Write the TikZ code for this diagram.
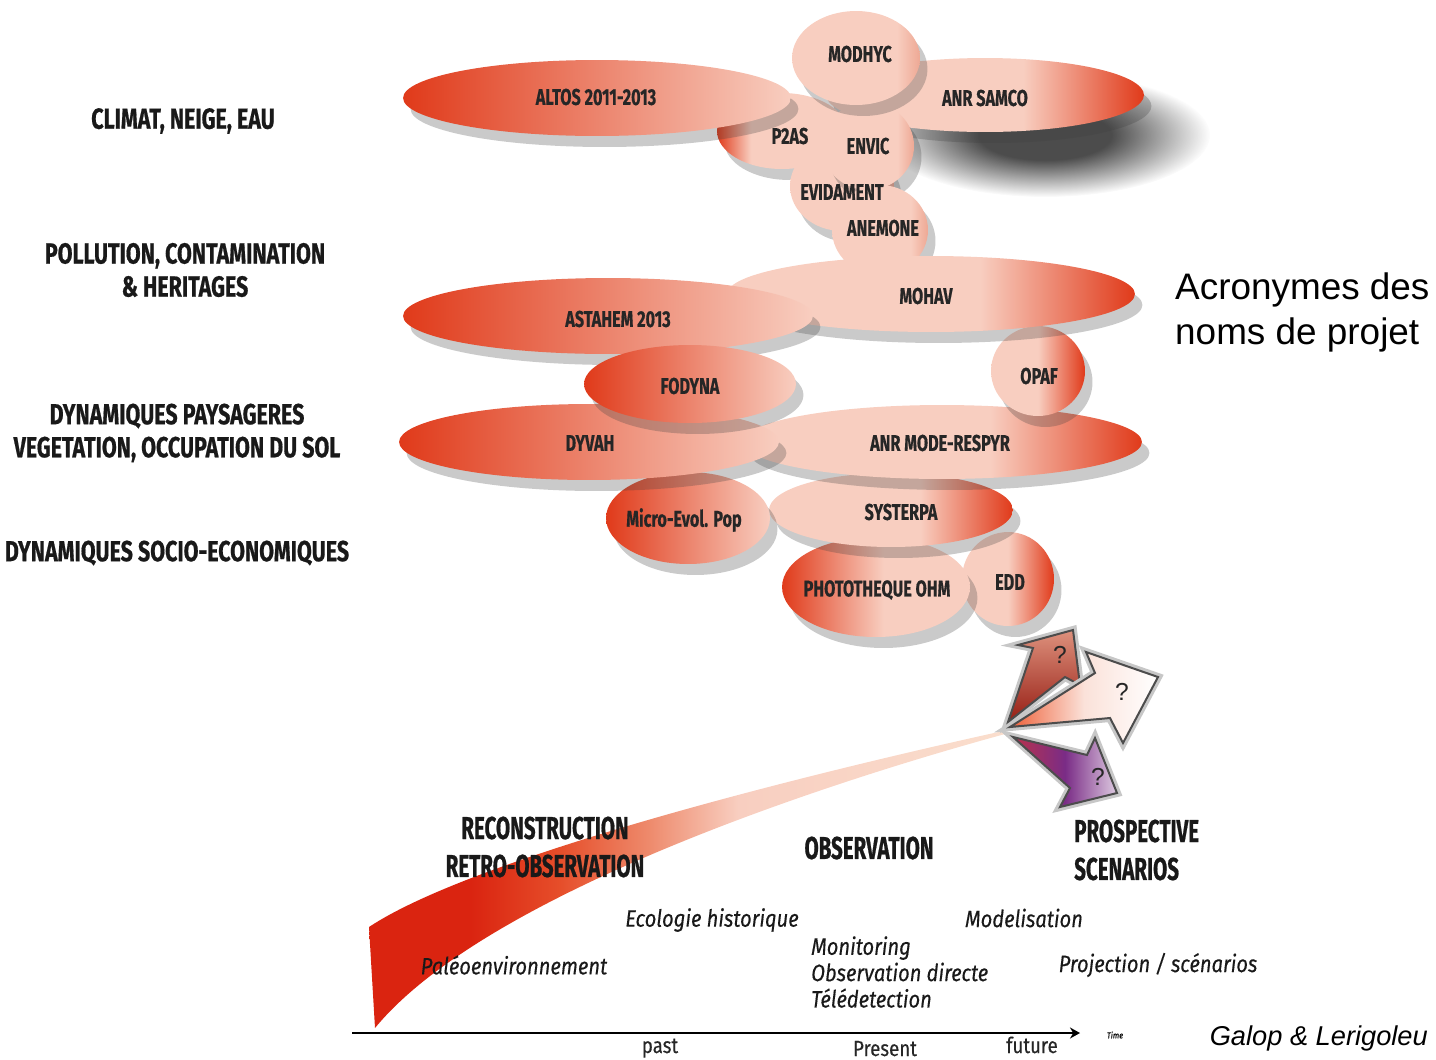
\documentclass[tikz,border=0pt]{standalone}
\usepackage{fontspec}
\usetikzlibrary{shapes.geometric,shadows,arrows.meta,fadings}
\newfontfamily\etroit[FakeStretch=0.71,FakeBold=0.5]{Fira Sans}
\newfontfamily\etroitlarge[FakeStretch=0.74,FakeBold=0.6]{Fira Sans}
\newfontfamily\etroittitre[FakeStretch=0.65,FakeBold=0.6]{Fira Sans}
\newfontfamily\etroitit[FakeStretch=0.85,FakeBold=0.3]{Fira Sans}
\newfontfamily\arial{Liberation Sans}
\definecolor{rouge}{RGB}{224,58,26}
\definecolor{rose}{RGB}{248,206,192}
\definecolor{rosefonce}{RGB}{238,168,148}
\definecolor{brique}{RGB}{218,36,16}
\definecolor{orangeq}{RGB}{230,78,42}
\definecolor{saumon}{RGB}{238,138,108}
\definecolor{peche}{RGB}{250,222,205}
\definecolor{brun}{RGB}{150,30,20}
\definecolor{saumonf}{RGB}{222,145,125}
\definecolor{orangef}{RGB}{238,95,55}
\definecolor{violet}{RGB}{122,44,134}
\definecolor{lie}{RGB}{185,50,75}
\pgfdeclarehorizontalshading{rougeG}{100bp}{color(0bp)=(rouge); color(25bp)=(rouge); color(75bp)=(rose); color(100bp)=(rose)}
\pgfdeclarehorizontalshading{rougeD}{100bp}{color(0bp)=(rose); color(25bp)=(rose); color(56bp)=(rose); color(75bp)=(rouge); color(100bp)=(rouge)}
\pgfdeclarehorizontalshading{bordG}{100bp}{color(0bp)=(rouge); color(25bp)=(rouge); color(52bp)=(rose); color(100bp)=(rose)}
\pgfdeclarehorizontalshading{pointeG}{100bp}{color(0bp)=(rouge); color(25bp)=(rouge); color(38bp)=(rose); color(100bp)=(rose)}
\pgfdeclarehorizontalshading{bordD}{100bp}{color(0bp)=(rose); color(50bp)=(rose); color(75bp)=(rouge); color(100bp)=(rouge)}
\pgfdeclarehorizontalshading{uni}{100bp}{color(0bp)=(rose); color(66bp)=(rose); color(75bp)=(rosefonce); color(100bp)=(rosefonce)}
\pgfdeclarehorizontalshading{queue}{100bp}{color(0bp)=(brique); color(33bp)=(brique); color(40bp)=(orangeq); color(47bp)=(saumon); color(54bp)=(rose); color(75bp)=(peche); color(100bp)=(peche)}
\pgfdeclareradialshading{flouS}{\pgfpointorigin}{color(0bp)=(pgftransparent!0); color(10bp)=(pgftransparent!0); color(25bp)=(pgftransparent!100); color(50bp)=(pgftransparent!100)}
\pgfdeclarefading{flou}{\pgfuseshading{flouS}}
\begin{document}
\begin{tikzpicture}[x=0.02cm, y=-0.02cm,
  projet/.style={ellipse, shade, inner sep=0pt,
    drop shadow={shadow xshift=0.15cm, shadow yshift=-0.22cm, opacity=.28, fill=black!75}},
  taille/.style 2 args={minimum width=#1*0.04cm, minimum height=#2*0.04cm},
  nomprojet/.style={inner sep=0pt, text=black!85, font=\etroit\bfseries\fontsize{13}{15}\selectfont},
  theme/.style={align=center, text=black!90, font=\etroitlarge\bfseries\fontsize{16.5}{18.8}\selectfont},
  titre/.style={text=black!90, font=\etroittitre\bfseries\fontsize{18}{21.6}\selectfont},
  methode/.style={text=black!90, font=\etroitit\itshape\fontsize{13.5}{15}\selectfont},
  axe/.style={anchor=base, text=black!85, font=\etroitit\fontsize{12.5}{14}\selectfont},
  fleche/.style={draw=black!70, line width=0.04cm, line join=miter,
    preaction={draw=black!22, line width=0.16cm, line join=miter}},
  question/.style={font=\arial\fontsize{14}{16}\selectfont, text=black!85}]
\useasboundingbox (0,0) rectangle (1436,1059);

% themes
\node[theme] (climat) at (183,121) {CLIMAT, NEIGE, EAU};
\node[theme] (pollution) at (185,270) {POLLUTION, CONTAMINATION\\\& HERITAGES};
\node[theme] (paysage) at (177,433) {DYNAMIQUES PAYSAGERES\\VEGETATION, OCCUPATION DU SOL};
\node[theme] (socio) at (177,553) {DYNAMIQUES SOCIO-ECONOMIQUES};

% projets (du fond vers l'avant)
\node[projet, shading=bordD, taille={46}{47}] (edd) at (1008,579) {};
\node[projet, shading=bordG, taille={94}{50}] (phototheque) at (876,587) {};
\node[projet, shading=rougeD, taille={122}{37}] (systerpa) at (891,510) {};
\node[projet, shading=rougeG, taille={82}{46}] (microevol) at (688,518) {};
\node[projet, shading=rougeD, taille={200}{37}] (moderespyr) at (942,442) {};
\node[projet, shading=rougeG, taille={190}{38}] (dyvah) at (589,442) {};
\node[projet, shading=bordD, taille={47}{45}] (opaf) at (1038,371) {};
\fill[black!70, path fading=flou] (1045,135) ellipse [x radius=165, y radius=62];
\node[projet, shading=rougeD, taille={159}{37}] (samco) at (985,95) {};
\node[projet, shading=pointeG, taille={65}{38}] (ptwoas) at (782,131) {};
\node[projet, shading=rougeG, taille={194}{38}] (altos) at (597,98) {};
\node[projet, shading=uni, taille={52}{45}] (evidament) at (842,186) {};
\node[projet, shading=uni, taille={46}{44}] (envic) at (868,146) {};
\node[projet, shading=uni, taille={64}{47}] (modhyc) at (856,58) {};
\node[projet, shading=uni, taille={48}{45}] (anemone) at (880,230) {};
\node[projet, shading=rougeD, taille={204}{38}] (mohav) at (931,294) {};
\node[projet, shading=rougeG, taille={205}{38}] (astahem) at (608,316) {};
\node[projet, shading=rougeG, taille={106}{39}] (fodyna) at (690,384) {};

% acronymes
\node[nomprojet] (n-edd) at (1010,582) {EDD};
\node[nomprojet] (n-phototheque) at (877,590) {PHOTOTHEQUE OHM};
\node[nomprojet] (n-systerpa) at (901,512) {SYSTERPA};
\node[nomprojet] (n-microevol) at (684,520) {Micro-Evol. Pop};
\node[nomprojet] (n-moderespyr) at (940,443) {ANR MODE-RESPYR};
\node[nomprojet] (n-dyvah) at (590,443) {DYVAH};
\node[nomprojet] (n-opaf) at (1039,376) {OPAF};
\node[nomprojet] (n-samco) at (985,98) {ANR SAMCO};
\node[nomprojet] (n-ptwoas) at (790,136) {P2AS};
\node[nomprojet] (n-altos) at (596,97) {ALTOS 2011-2013};
\node[nomprojet] (n-evidament) at (842,192) {EVIDAMENT};
\node[nomprojet] (n-envic) at (868,146) {ENVIC};
\node[nomprojet] (n-modhyc) at (860,54) {MODHYC};
\node[nomprojet] (n-anemone) at (883,228) {ANEMONE};
\node[nomprojet] (n-mohav) at (926,296) {MOHAV};
\node[nomprojet] (n-astahem) at (618,319) {ASTAHEM 2013};
\node[nomprojet] (n-fodyna) at (690,386) {FODYNA};

\node[anchor=west, align=left, font=\arial\fontsize{21}{25.6}\selectfont] (acronymes) at (1169,312) {Acronymes des\\noms de projet};

% trajectoire
\shade[shading=queue] (369,927) .. controls (470,860) and (780,780) .. (1003,731)
  -- (1005,734) .. controls (800,790) and (480,900) .. (375,1028) -- cycle;
\shadedraw[fleche, bottom color=brun, top color=saumonf] (1008,722) -- (1033,648) -- (1018,645) -- (1073,630) -- (1080,685) -- (1065,677) -- cycle;
\shadedraw[fleche, left color=orangef, right color=white, middle color=rose!60!white] (1010,727) -- (1095,673) -- (1086,652) -- (1158,677) -- (1123,743) -- (1110,718) -- cycle;
\shadedraw[fleche, left color=lie, right color=violet!25!white, middle color=violet] (1013,737) -- (1087,755) -- (1095,738) -- (1117,793) -- (1060,807) -- (1070,788) -- cycle;
\node[question] (qa) at (1060,655) {?};
\node[question] (qb) at (1122,692) {?};
\node[question] (qc) at (1098,777) {?};

% phases
\node[titre, align=center] (reconstruction) at (545,847) {RECONSTRUCTION\\RETRO-OBSERVATION};
\node[titre] (observation) at (869,848) {OBSERVATION};
\node[titre, align=left, anchor=west] (prospective) at (1068,850) {PROSPECTIVE\\SCENARIOS};
\node[methode] (ecologie) at (712,920) {Ecologie historique};
\node[methode] (paleo) at (514,965) {Paléoenvironnement};
\node[methode, align=left, anchor=west] (monitoring) at (805,972) {Monitoring\\Observation directe\\Télédetection};
\node[methode] (modelisation) at (1024,918) {Modelisation};
\node[methode] (projection) at (1158,965) {Projection / scénarios};

% axe du temps
\coordinate (t0) at (352,1033);
\coordinate (t1) at (1080,1033);
\draw[line width=0.04cm, -{Stealth[length=0.2cm, width=0.22cm]}] (t0) -- (t1);
\node[axe] (past) at (660,1053) {past};
\node[axe] (present) at (885,1056) {Present};
\node[axe] (future) at (1032,1053) {future};
\node[font=\etroitit\itshape\fontsize{5}{6}\selectfont] (time) at (1115,1035) {Time};
\node[anchor=east, font=\arial\itshape\fontsize{15.5}{18}\selectfont] (galop) at (1434,1038) {Galop \& Lerigoleu};
\end{tikzpicture}
\end{document}
